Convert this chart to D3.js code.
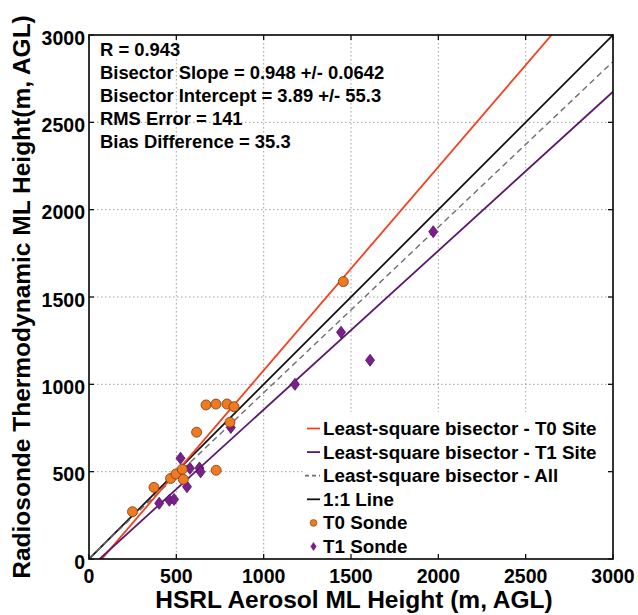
<!DOCTYPE html>
<html><head><meta charset="utf-8">
<script src="https://cdn.jsdelivr.net/npm/d3@7"></script>
<style>body{margin:0;background:#fff}</style>
</head><body>
<script>
// ---- data ----
const t0X = [249, 372, 467, 498, 534, 540, 616, 670, 727, 790, 830, 807, 728, 1456];
const t0Y = [271, 410, 461, 487, 514, 456, 726, 882, 887, 887, 872, 783, 508, 1588];
const t1X = [524, 578, 632, 639, 561, 402, 460, 487, 812, 1179, 1609, 1443, 1971];
const t1Y = [577, 519, 521, 499, 414, 319, 336, 341, 753, 1000, 1138, 1298, 1874];
const fitNames = ["Least-square bisector - T0 Site", "Least-square bisector - T1 Site", "Least-square bisector - All", "1:1 Line"];
const fitSlopes = [1.165, 0.91, 0.948, 1];
const fitIntercepts = [-85, -55, 3.89, 0];
const fitColors = ["#f5401e", "#5a1a6c", "#6e6e6e", "#111"];
const fitDash = [null, null, "6,4", null];
const tickValues = [0, 500, 1000, 1500, 2000, 2500, 3000];
const statsText = ["R = 0.943", "Bisector Slope = 0.948 +/- 0.0642", "Bisector Intercept = 3.89 +/- 55.3", "RMS Error = 141", "Bias Difference = 35.3"];

const W = 638, H = 615;
const L = 89, R = 613, T = 35, B = 559;
const x = d3.scaleLinear().domain([0, 3000]).range([L, R]);
const y = d3.scaleLinear().domain([0, 3000]).range([B, T]);
const font = "'Liberation Sans', Arial, Helvetica, sans-serif";

const svg = d3.select("body").append("svg").attr("width", W).attr("height", H)
  .style("font-family", font);

svg.append("defs").append("clipPath").attr("id", "clip")
  .append("rect").attr("x", L).attr("y", T).attr("width", R - L).attr("height", B - T);

// grid
const grid = svg.append("g").attr("stroke", "#a0a0a0").attr("stroke-width", 1).attr("stroke-dasharray", "1.5,2.5");
tickValues.slice(1, -1).forEach(v => {
  grid.append("line").attr("x1", x(v)).attr("x2", x(v)).attr("y1", T).attr("y2", B);
  grid.append("line").attr("x1", L).attr("x2", R).attr("y1", y(v)).attr("y2", y(v));
});

// fit lines
const plot = svg.append("g").attr("clip-path", "url(#clip)");
const drawOrder = [3, 2, 0, 1];
drawOrder.forEach(i => {
  const xs = [0, 3000];
  plot.append("line")
    .attr("x1", x(xs[0])).attr("y1", y(fitSlopes[i] * xs[0] + fitIntercepts[i]))
    .attr("x2", x(xs[1])).attr("y2", y(fitSlopes[i] * xs[1] + fitIntercepts[i]))
    .attr("stroke", fitColors[i]).attr("stroke-width", i === 2 ? 1.4 : 1.8)
    .attr("stroke-dasharray", fitDash[i]);
});

// points
const diamond = (cx, cy, w, h) => `M${cx},${cy - h}L${cx + w},${cy}L${cx},${cy + h}L${cx - w},${cy}Z`;
t1X.forEach((v, i) => {
  plot.append("path").attr("d", diamond(x(v), y(t1Y[i]), 4.5, 6))
    .attr("fill", "#7a1f8c").attr("stroke", "#4d0f5c").attr("stroke-width", 0.8);
});
t0X.forEach((v, i) => {
  plot.append("circle").attr("cx", x(v)).attr("cy", y(t0Y[i])).attr("r", 5)
    .attr("fill", "#ee7a22").attr("stroke", "#7a3a10").attr("stroke-width", 0.8);
});

// legend
const lg = svg.append("g");
lg.append("rect").attr("x", 303).attr("y", 412).attr("width", R - 303).attr("height", B - 412).attr("fill", "#fff");
const rowY = i => 435 + i * 23.6;
fitNames.forEach((n, i) => {
  const cy = rowY(i) - 6.5;
  lg.append("line").attr("x1", i === 2 ? 305 : 307).attr("x2", 320).attr("y1", cy).attr("y2", cy)
    .attr("stroke", fitColors[i]).attr("stroke-width", 1.8).attr("stroke-dasharray", i === 2 ? "4,3" : null);
  lg.append("text").attr("x", 323).attr("y", rowY(i)).text(n)
    .attr("font-size", 18.8).attr("font-weight", "bold");
});
const mLabels = ["T0 Sonde", "T1 Sonde"];
lg.append("circle").attr("cx", 313.5).attr("cy", rowY(4) - 6.5).attr("r", 3.4)
  .attr("fill", "#ee7a22").attr("stroke", "#7a3a10").attr("stroke-width", 0.6);
lg.append("path").attr("d", diamond(313.5, rowY(5) - 6.5, 3, 4.6)).attr("fill", "#7a1f8c");
mLabels.forEach((n, k) => {
  lg.append("text").attr("x", 323).attr("y", rowY(4 + k)).text(n)
    .attr("font-size", 18.8).attr("font-weight", "bold");
});

// axes box & ticks
svg.append("rect").attr("x", L).attr("y", T).attr("width", R - L).attr("height", B - T)
  .attr("fill", "none").attr("stroke", "#111").attr("stroke-width", 1.7);
const tk = svg.append("g").attr("stroke", "#111").attr("stroke-width", 1.3);
tickValues.forEach(v => {
  tk.append("line").attr("x1", x(v)).attr("x2", x(v)).attr("y1", B).attr("y2", B - 5);
  tk.append("line").attr("x1", x(v)).attr("x2", x(v)).attr("y1", T).attr("y2", T + 5);
  tk.append("line").attr("x1", L).attr("x2", L + 5).attr("y1", y(v)).attr("y2", y(v));
  tk.append("line").attr("x1", R).attr("x2", R - 5).attr("y1", y(v)).attr("y2", y(v));
});
tickValues.forEach(v => {
  svg.append("text").attr("x", x(v)).attr("y", B + 24).attr("text-anchor", "middle")
    .attr("font-size", 19.5).attr("font-weight", "bold").text(v);
  svg.append("text").attr("x", L - 4).attr("y", y(v) + 9.5).attr("text-anchor", "end")
    .attr("font-size", 19.5).attr("font-weight", "bold").text(v);
});

// stats text
statsText.forEach((s, i) => {
  svg.append("text").attr("x", 100).attr("y", 56 + i * 23).text(s)
    .attr("font-size", 18.4).attr("font-weight", "bold");
});

// axis titles
svg.append("text").attr("x", (L + R) / 2 + 3).attr("y", 608).attr("text-anchor", "middle")
  .attr("font-size", 24.5).attr("font-weight", "bold").text("HSRL Aerosol ML Height (m, AGL)");
svg.append("text").attr("transform", `translate(30,${(T + B) / 2}) rotate(-90)`).attr("text-anchor", "middle")
  .attr("font-size", 24.5).attr("font-weight", "bold").text("Radiosonde Thermodynamic ML Height(m, AGL)");
</script>
</body></html>
